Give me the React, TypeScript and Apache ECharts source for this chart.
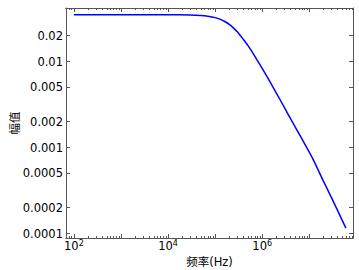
import React, { useEffect, useRef } from "react";
import * as echarts from "echarts";

// Frequency (Hz) and amplitude
const freqs = [100, 1000, 10000, 30000, 50000, 70000, 100000, 130000, 160000, 200000, 250000, 300000, 400000, 500000, 700000, 1e6, 1.5e6, 2e6, 3e6, 4e6, 7e6, 1.2e7, 2e7, 3e7, 6e7];
const amps = [0.035, 0.035, 0.035, 0.0348, 0.0343, 0.0336, 0.0324, 0.0309, 0.0292, 0.027, 0.0243, 0.022, 0.018, 0.0153, 0.0115, 0.00835, 0.0057, 0.0043, 0.00289, 0.00217, 0.00126, 0.000735, 0.000407, 0.000259, 0.000116];

const xMin = 68;
const xMax = 8.5e7;
const yMin = 0.000089;
const yMax = 0.0419;

const xMajorDecades = [2, 3, 4, 5, 6, 7];
const xLabelDecades = [2, 4, 6];
const yTickValues = [0.0001, 0.0002, 0.0005, 0.001, 0.002, 0.005, 0.01, 0.02];
const yTickLabels = ["0.0001", "0.0002", "0.0005", "0.001", "0.002", "0.005", "0.01", "0.02"];

const xName = "频率(Hz)";
const yName = "幅值";

const FONT = "DejaVu Sans, 'Noto Sans CJK SC', sans-serif";
const AXIS_COLOR = "#555";

export default function App() {
  const ref = useRef<HTMLDivElement>(null);
  useEffect(() => {
    if (!ref.current) return;
    const chart = echarts.init(ref.current, undefined, { renderer: "svg" });
    const lx0 = Math.log10(xMin);
    const lx1 = Math.log10(xMax);
    const ly0 = Math.log10(yMin);
    const ly1 = Math.log10(yMax);

    const minorX: number[] = [];
    for (let d = 1; d <= 7; d++) {
      for (let k = 2; k <= 9; k++) {
        const v = Math.log10(k) + d;
        if (v >= lx0 && v <= lx1) minorX.push(v);
      }
    }
    const yTicksLog = yTickValues.map((v) => Math.log10(v));

    const baseX = (position: "bottom" | "top", ticks: number[], len: number, labels: boolean, name: boolean) => ({
      type: "value",
      position,
      min: lx0,
      max: lx1,
      name: name ? xName : "",
      nameLocation: "middle",
      nameGap: 18,
      nameMoveOverlap: false,
      nameTextStyle: { fontFamily: FONT, fontSize: 11.5, color: "#000" },
      axisLine: { show: true, onZero: false, lineStyle: { color: AXIS_COLOR, width: 1 } },
      axisTick: { show: true, inside: true, length: len, customValues: ticks, lineStyle: { color: AXIS_COLOR, width: 1 } },
      axisLabel: labels
        ? {
            show: true,
            customValues: xLabelDecades,
            margin: 1,
            formatter: (v: number) => `{b|10}{s|${Math.round(v)}}`,
            rich: {
              b: { fontFamily: FONT, fontSize: 11.5, color: "#000", verticalAlign: "bottom", lineHeight: 13 },
              s: { fontFamily: FONT, fontSize: 8, color: "#000", verticalAlign: "top", lineHeight: 13 },
            },
          }
        : { show: false },
      splitLine: { show: false },
    });

    const baseY = (position: "left" | "right", labels: boolean, name: boolean) => ({
      type: "value",
      position,
      min: ly0,
      max: ly1,
      name: name ? yName : "",
      nameLocation: "middle",
      nameGap: 45,
      nameRotate: 90,
      nameMoveOverlap: false,
      nameTextStyle: { fontFamily: FONT, fontSize: 11.5, color: "#000" },
      axisLine: { show: true, onZero: false, lineStyle: { color: AXIS_COLOR, width: 1 } },
      axisTick: { show: true, inside: true, length: 4, customValues: yTicksLog, lineStyle: { color: AXIS_COLOR, width: 1 } },
      axisLabel: labels
        ? {
            show: true,
            customValues: yTicksLog,
            margin: 3,
            fontFamily: FONT,
            fontSize: 11.5,
            color: "#000",
            formatter: (v: number) => {
              const i = yTicksLog.findIndex((t) => Math.abs(t - v) < 1e-6);
              return i >= 0 ? yTickLabels[i] : "";
            },
          }
        : { show: false },
      splitLine: { show: false },
    });

    chart.setOption({
      animation: false,
      grid: { left: 66, right: 6, top: 8, bottom: 32, containLabel: false, outerBoundsMode: "none" },
      xAxis: [
        baseX("bottom", xMajorDecades, 4, true, true),
        baseX("bottom", minorX, 2, false, false),
        baseX("top", xMajorDecades, 4, false, false),
        baseX("top", minorX, 2, false, false),
      ],
      yAxis: [baseY("left", true, true), baseY("right", false, false)],
      series: [
        {
          type: "line",
          xAxisIndex: 0,
          yAxisIndex: 0,
          data: freqs.map((f, i) => [Math.log10(f), Math.log10(amps[i])]),
          showSymbol: false,
          smooth: 0.2,
          lineStyle: { color: "#0000ff", width: 1.5 },
          itemStyle: { color: "#0000ff" },
        },
      ],
    });
    return () => chart.dispose();
  }, []);
  return <div ref={ref} style={{ position: "fixed", left: 0, top: 0, width: 359, height: 270, background: "#fff" }} />;
}
